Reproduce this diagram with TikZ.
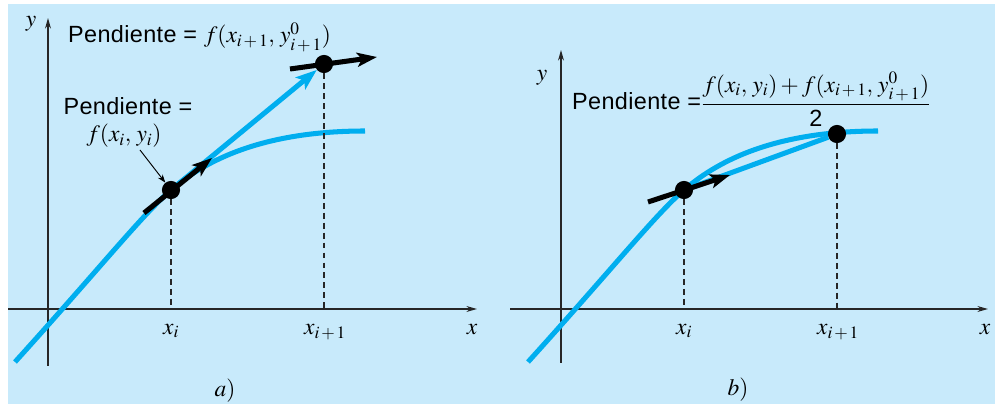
\documentclass[tikz,border=0pt]{standalone}
\usepackage{mathptmx}
\usepackage[no-math]{fontspec}
\setmainfont{Liberation Sans}[LetterSpace=1.5]
\usetikzlibrary{arrows.meta}

\begin{document}
\begin{tikzpicture}[x=0.03cm, y=-0.03cm,
    font=\fontsize{20}{23}\selectfont,
    axisLine/.style={line width=1.3pt, draw=black!85, -{Stealth[length=9pt, width=5pt]}},
    curveLine/.style={draw=curveColour, line width=4.3pt},
    slopeArrow/.style={line width=4.3pt, -{Stealth[length=17pt, width=12pt, inset=4pt]}},
    dotNode/.style={circle, fill=black, minimum size=15.5pt, inner sep=0pt},
    guideLine/.style={line width=1.3pt, draw=black!85, dash pattern=on 5pt off 3.5pt},
    ]

    \definecolor{curveColour}{HTML}{00AEEF}
    \definecolor{backColour}{HTML}{C8EAFB}

    % Define the page and the background
    \useasboundingbox (0,0) rectangle (995,404);
    \fill[white] (0,0) rectangle (995,404);
    \fill[backColour] (8,4) rectangle (995,404);

    % Panel a: one step of Euler
    \coordinate (originA) at (48,309);
    \draw[axisLine] (8,309) -- (477,309);
    \draw[axisLine] (48,366) -- (48,18);
    \node (yA) at (31,24) {$y$};
    \node (xA) at (472,330) {$x$};

    % Draw the solution curve
    \draw[curveLine] (15,362) .. controls (100,268) and (143,214) .. (171,190)
        .. controls (200,165) and (255,131) .. (365,131);

    % Define the points and the slopes
    \node[dotNode] (dotA) at (171,190) {};
    \node[dotNode] (dotB) at (324,64) {};
    \coordinate (tailA) at (144,213);
    \coordinate (headA) at (212,158);
    \coordinate (tailB) at (290,69);
    \coordinate (headB) at (377,57);

    \draw[curveLine, -{Stealth[length=18pt, width=13pt, inset=4pt]}] (dotA) -- (dotB);
    \draw[slopeArrow] (tailA) -- (headA);
    \draw[slopeArrow] (tailB) -- (headB);
    \draw[guideLine] (dotA) -- (dotA |- originA);
    \draw[guideLine] (dotB) -- (dotB |- originA);

    % Label the points
    \node (xiA) at (171,331) {$x_i$};
    \node (xipA) at (325,332) {$x_{i\,+\,1}$};
    \node[anchor=base west, inner sep=0pt] (slopeTop) at (68,43) {Pendiente = $f(x_{i\,+\,1},\, y^0_{i\,+\,1})$};
    \node (slopeMid) at (128,106) {Pendiente =};
    \node (fA) at (124,136) {$f(x_i,\, y_i)$};
    \coordinate (pointerA) at (140,150);
    \draw[line width=0.8pt, -{Stealth[length=7pt, width=5pt]}] (pointerA) -- (dotA);
    \node (labelA) at (225,391) {$a)$};

    % Panel b: one step of Heun
    \begin{scope}[shift={(513,0)}]
        \coordinate (originB) at (48,309);
        \draw[axisLine] (-3,309) -- (475,309);
        \draw[axisLine] (48,363) -- (48,50);
        \node (yB) at (29,78) {$y$};
        \node (xB) at (472,330) {$x$};

        % Draw the solution curve
        \draw[curveLine] (15,362) .. controls (100,268) and (143,214) .. (171,190)
            .. controls (200,165) and (255,131) .. (365,131);

        % Define the points and the mean slope
        \node[dotNode] (dotC) at (171,190) {};
        \node[dotNode] (dotD) at (324,134) {};
        \coordinate (tailC) at (135,202);
        \coordinate (headC) at (217,175);

        \draw[curveLine] (dotC) -- (dotD);
        \draw[slopeArrow] (tailC) -- (headC);
        \draw[guideLine] (dotC) -- (dotC |- originB);
        \draw[guideLine] (dotD) -- (dotD |- originB);

        % Label the points
        \node (xiB) at (171,331) {$x_i$};
        \node (xipB) at (325,332) {$x_{i\,+\,1}$};
        \node[anchor=base west, inner sep=0pt] (slopeAvg) at (59,110)
            {Pendiente =$\displaystyle\frac{f(x_i,\, y_i) + f(x_{i\,+\,1},\, y^0_{i\,+\,1})}{\mbox{2}}$};
        \node (labelB) at (225,390) {$b)$};
    \end{scope}

\end{tikzpicture}
\end{document}
